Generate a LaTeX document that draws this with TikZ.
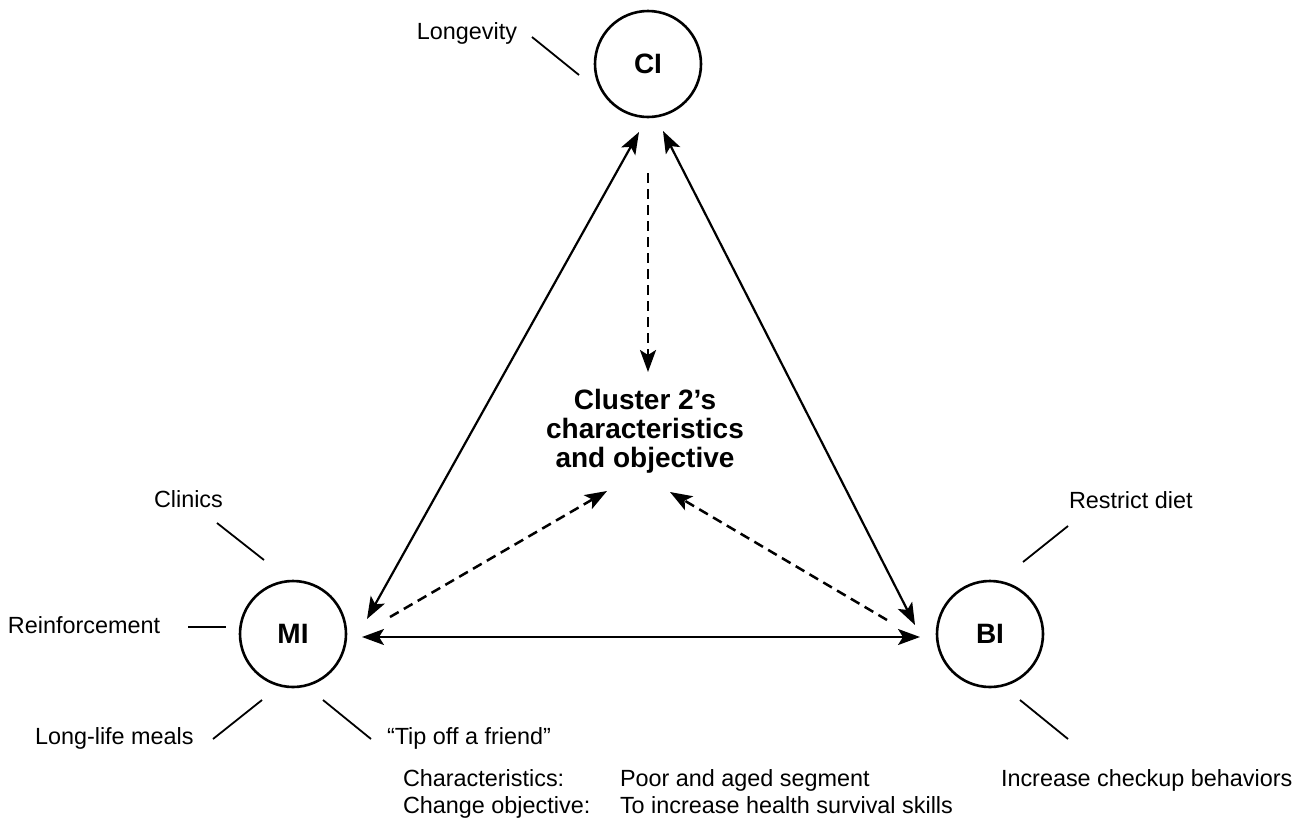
\documentclass[tikz,border=0pt]{standalone}
\usepackage{fontspec}
\setmainfont{Liberation Sans}
\usetikzlibrary{calc,arrows.meta}
\begin{document}
\begin{tikzpicture}[x=1pt,y=-1pt,
  every node/.style={inner sep=0pt, outer sep=0pt},
  txt/.style={font=\fontsize{23.4}{27}\selectfont},
  hub/.style={circle, draw, line width=2.6pt, minimum size=106pt,
    font=\fontsize{28}{30}\selectfont\bfseries},
  spoke/.style={line width=1.8pt},
  link/.style={line width=2.2pt,
    {Stealth[length=22pt,width=16pt,inset=5pt]}-{Stealth[length=22pt,width=16pt,inset=5pt]}},
  flow/.style={line width=2.5pt, dash pattern=on 10pt off 6pt,
    -{Stealth[length=22pt,width=16pt,inset=5pt]}},
]
\useasboundingbox (0,0) rectangle (1306,836);

% the three influence circles and the central cluster text
\node[hub] (CI) at (648,64) {CI};
\node[hub] (MI) at (293,634) {MI};
\node[hub] (BI) at (990,634) {BI};
\node[font=\fontsize{28}{29}\selectfont\bfseries, align=center] (goal) at (645,431)
  {Cluster 2’s\\characteristics\\and objective};

% surrounding labels
\node[txt, anchor=base east] (lLong) at (517,39) {Longevity};
\node[txt, anchor=base west] (lClin) at (154,507) {Clinics};
\node[txt, anchor=base west] (lReinf) at (8,633) {Reinforcement};
\node[txt, anchor=base west] (lMeal) at (35,744) {Long-life meals};
\node[txt, anchor=base west] (lTip) at (387,744) {“Tip off a friend”};
\node[txt, anchor=base west] (lDiet) at (1069,508) {Restrict diet};
\node[txt, anchor=base west] (lCheck) at (1001,786) {Increase checkup behaviors};

% characteristics and objective table
\node[txt, anchor=base west] (kChar) at (403,786) {Characteristics:};
\node[txt, anchor=base west] (vChar) at (620,786) {Poor and aged segment};
\node[txt, anchor=base west] (kObj) at (403,813) {Change objective:};
\node[txt, anchor=base west] (vObj) at (620,813) {To increase health survival skills};

% short spokes next to the circles
\draw[spoke] ($(CI)+(-116,-27)$) -- ($(CI)+(-69,11)$);
\draw[spoke] ($(MI)+(-76,-111)$) -- ($(MI)+(-29,-74)$);
\draw[spoke] ($(MI)+(-105,-7)$) -- ($(MI)+(-67,-7)$);
\draw[spoke] ($(MI)+(-80,105)$) -- ($(MI)+(-31,66)$);
\draw[spoke] ($(MI)+(30,66)$) -- ($(MI)+(78,105)$);
\draw[spoke] ($(BI)+(78,-108)$) -- ($(BI)+(33,-72)$);
\draw[spoke] ($(BI)+(30,66)$) -- ($(BI)+(78,105)$);

% arrow end points around the circles and the cluster text
\coordinate (ciL) at ($(CI)+(-9,68)$);
\coordinate (ciR) at ($(CI)+(15,67)$);
\coordinate (ciD) at ($(CI)+(0,109)$);
\coordinate (miU) at ($(MI)+(74,-15)$);
\coordinate (miR) at ($(MI)+(69,3)$);
\coordinate (miD) at ($(MI)+(97,-17)$);
\coordinate (biU) at ($(BI)+(-75,-9)$);
\coordinate (biL) at ($(BI)+(-70,3)$);
\coordinate (biD) at ($(BI)+(-103,-14)$);
\coordinate (gTop) at ($(goal)+(3,-59)$);
\coordinate (gLeft) at ($(goal)+(-38,60)$);
\coordinate (gRight) at ($(goal)+(25,61)$);

% two-way links between the circles
\draw[link] (ciL) -- (miU);
\draw[link] (ciR) -- (biU);
\draw[link] (miR) -- (biL);

% dashed influences on the cluster
\draw[flow] (ciD) -- (gTop);
\draw[flow] (miD) -- (gLeft);
\draw[flow] (biD) -- (gRight);
\end{tikzpicture}
\end{document}
